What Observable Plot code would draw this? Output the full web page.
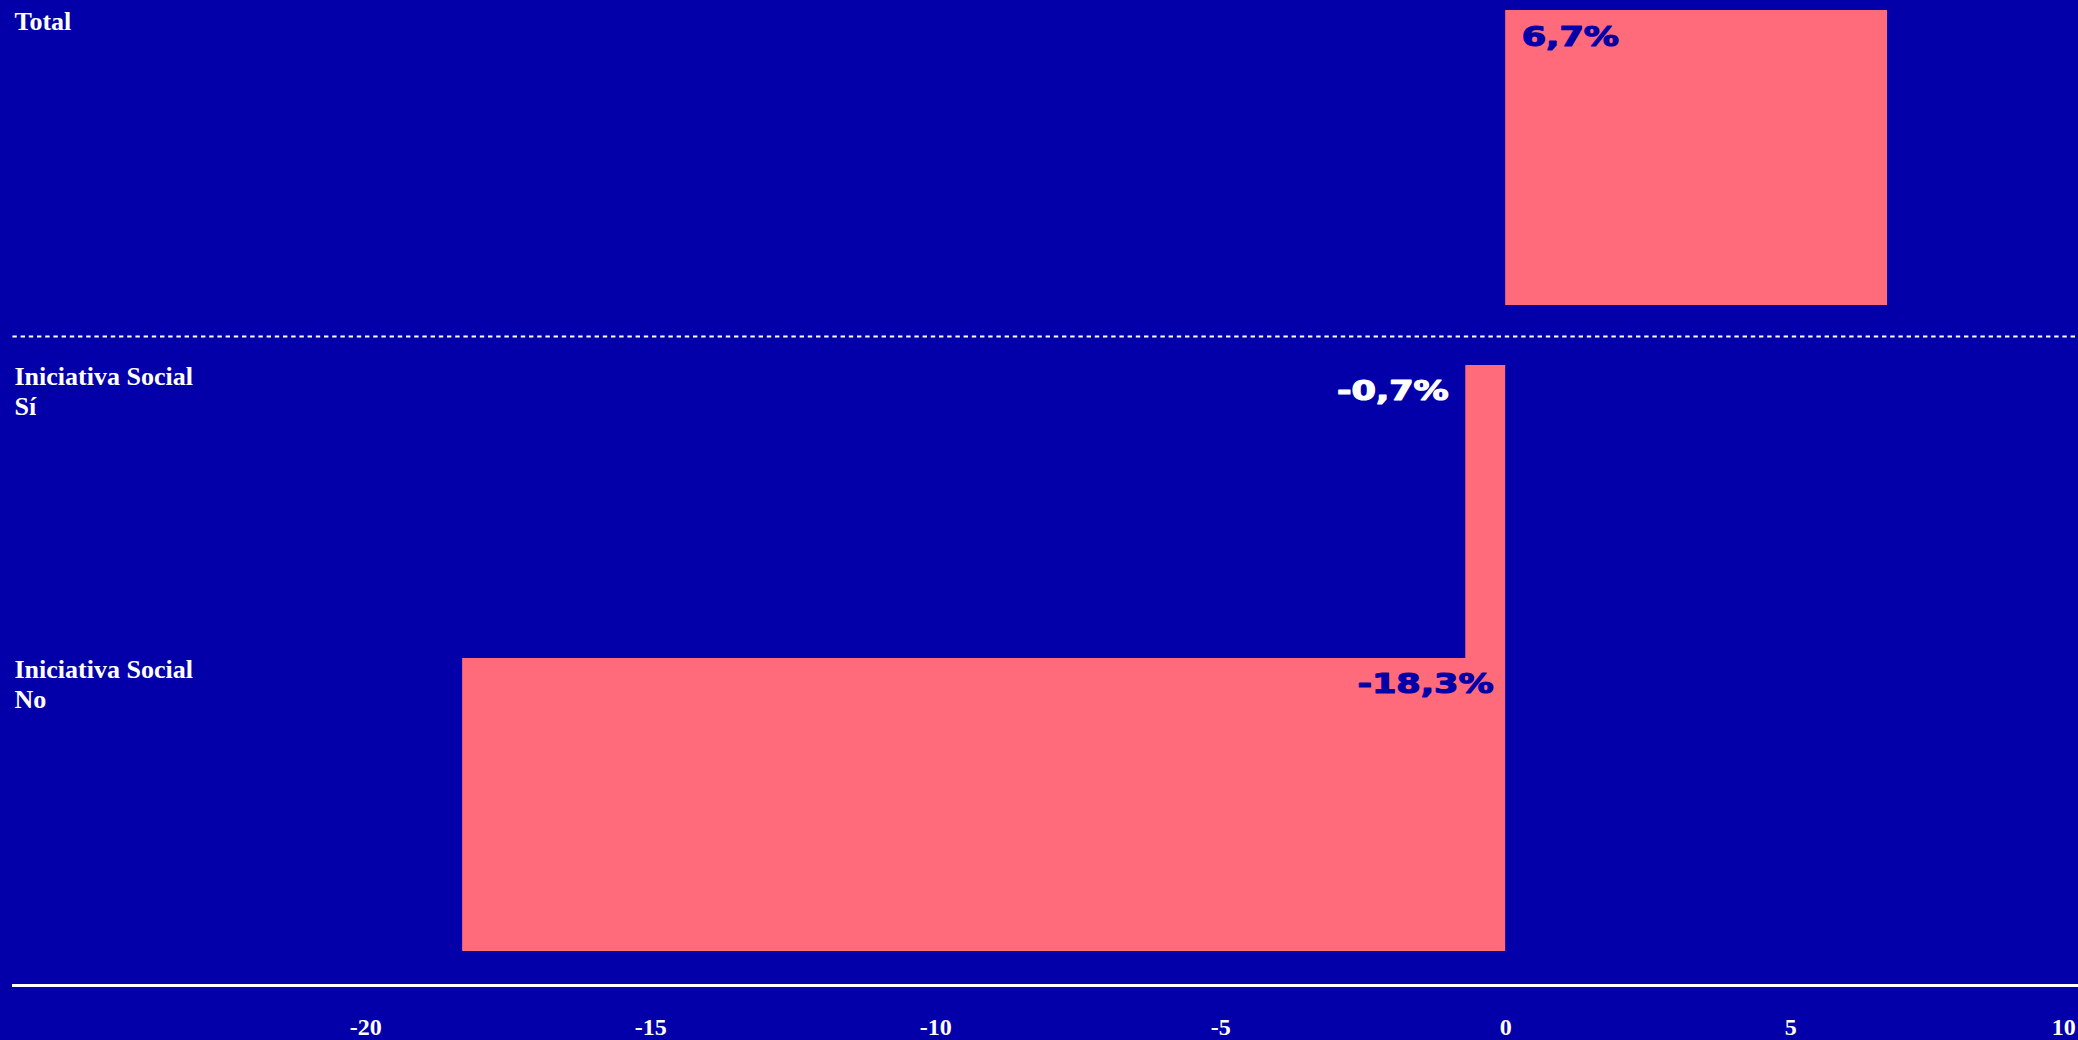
<!DOCTYPE html>
<html>
<head>
<meta charset="utf-8">
<script src="https://cdn.jsdelivr.net/npm/d3@7"></script>
<script src="https://cdn.jsdelivr.net/npm/@observablehq/plot@0.6"></script>
<style>
  html, body { margin: 0; padding: 0; background: #0300A9; overflow: hidden; }
  #chart { width: 2078px; }
  #chart svg { display: block; }
</style>
</head>
<body>
<div id="chart"></div>
<script>
// ---- data ----
const categories = ["Total", "Sí", "No"];
const rowLabels = ["Total", "Iniciativa Social\nSí", "Iniciativa Social\nNo"];
const values = [6.7, -0.7, -18.3];
const valueLabels = ["6,7%", "-0,7%", "-18,3%"];
const tickValues = [-20, -15, -10, -5, 0, 5, 10];

// ---- styles ----
const BG = "#0300A9", BAR = "#FF6B7B", WHITE = "#FFFFFF";
const serif = "'Liberation Serif', 'Times New Roman', serif";
const wide = "'DejaVu Sans', Verdana, sans-serif";
const xDomain = [-26.18, 10.05];
const W = 2078;

const rows = categories.map((c, i) => ({
  cat: c, label: rowLabels[i], value: values[i], text: valueLabels[i],
  inside: Math.abs(values[i]) >= 2
}));

function barMarks(data, bw) {
  const lab = {lineAnchor: "top", fontFamily: wide, fontSize: 27, fontWeight: "bold", strokeWidth: 1.2};
  return [
    Plot.barX(data, {y: "cat", x1: 0, x2: "value", fill: BAR}),
    Plot.text(data, {
      y: "cat", text: "label", frameAnchor: "left", textAnchor: "start",
      lineAnchor: "top", lineHeight: 1.17, dx: 1, dy: -bw / 2 - 2,
      fill: WHITE, fontFamily: serif, fontSize: 26, fontWeight: "bold"
    }),
    Plot.text(data.filter(d => d.inside && d.value > 0), {
      ...lab, y: "cat", x: () => 0, text: "text", textAnchor: "start",
      dx: 16, dy: -bw / 2 + 16, fill: BG, stroke: BG
    }),
    Plot.text(data.filter(d => d.inside && d.value < 0), {
      ...lab, y: "cat", x: () => 0, text: "text", textAnchor: "end",
      dx: -12, dy: -bw / 2 + 16, fill: BG, stroke: BG
    }),
    Plot.text(data.filter(d => !d.inside), {
      ...lab, y: "cat", x: "value", text: "text", textAnchor: "end",
      dx: -17, dy: -bw / 2 + 16, fill: WHITE, stroke: WHITE
    })
  ];
}

const styleObj = {background: "transparent", color: WHITE, fontFamily: serif, fontWeight: "bold", overflow: "visible"};

// top panel: Total
const topData = rows.filter(d => d.cat === "Total");
const topPlot = Plot.plot({
  width: W, height: 340,
  marginTop: 10, marginBottom: 4, marginLeft: 13, marginRight: 0,
  style: styleObj,
  x: {domain: xDomain, axis: null},
  y: {domain: ["Total"], padding: 0, insetBottom: 31, axis: null},
  marks: [
    Plot.frame({anchor: "bottom", stroke: WHITE, strokeWidth: 2.2, strokeDasharray: "2.2,6"}),
    ...barMarks(topData, 295)
  ]
});

// bottom panel: Iniciativa Social
const botData = rows.filter(d => d.cat !== "Total");
const botPlot = Plot.plot({
  width: W, height: 700,
  marginTop: 24, marginBottom: 55, marginLeft: 13, marginRight: 0,
  style: styleObj,
  x: {domain: xDomain},
  y: {domain: ["Sí", "No"], padding: 0, insetBottom: 34, axis: null},
  marks: [
    ...barMarks(botData, 293.5),
    Plot.frame({anchor: "bottom", stroke: WHITE, strokeWidth: 3}),
    Plot.axisX({ticks: tickValues.filter(t => t < 10), tickSize: 0, tickPadding: 32,
      tickFormat: d => String(d), fill: WHITE, fontSize: 24, fontWeight: "bold", fontFamily: serif, label: null}),
    Plot.axisX({ticks: tickValues.filter(t => t >= 10), tickSize: 0, tickPadding: 32, textAnchor: "end",
      tickFormat: d => String(d), fill: WHITE, fontSize: 24, fontWeight: "bold", fontFamily: serif, label: null})
  ]
});

const chart = document.getElementById("chart");
chart.appendChild(topPlot);
chart.appendChild(botPlot);

// widen the value labels (extended display face look)
for (const svg of [topPlot, botPlot]) {
  svg.querySelectorAll("text").forEach(t => {
    const g = t.closest("g");
    const ff = (g && g.getAttribute("font-family")) || t.getAttribute("font-family") || "";
    if (!ff.includes("DejaVu Sans")) return;
    const tr = t.getAttribute("transform");
    if (tr) {
      t.setAttribute("transform", tr + " scale(1.3,1)");
    } else {
      const x = +t.getAttribute("x") || 0;
      t.setAttribute("transform", `translate(${x},0) scale(1.3,1) translate(${-x},0)`);
    }
  });
}
</script>
</body>
</html>
